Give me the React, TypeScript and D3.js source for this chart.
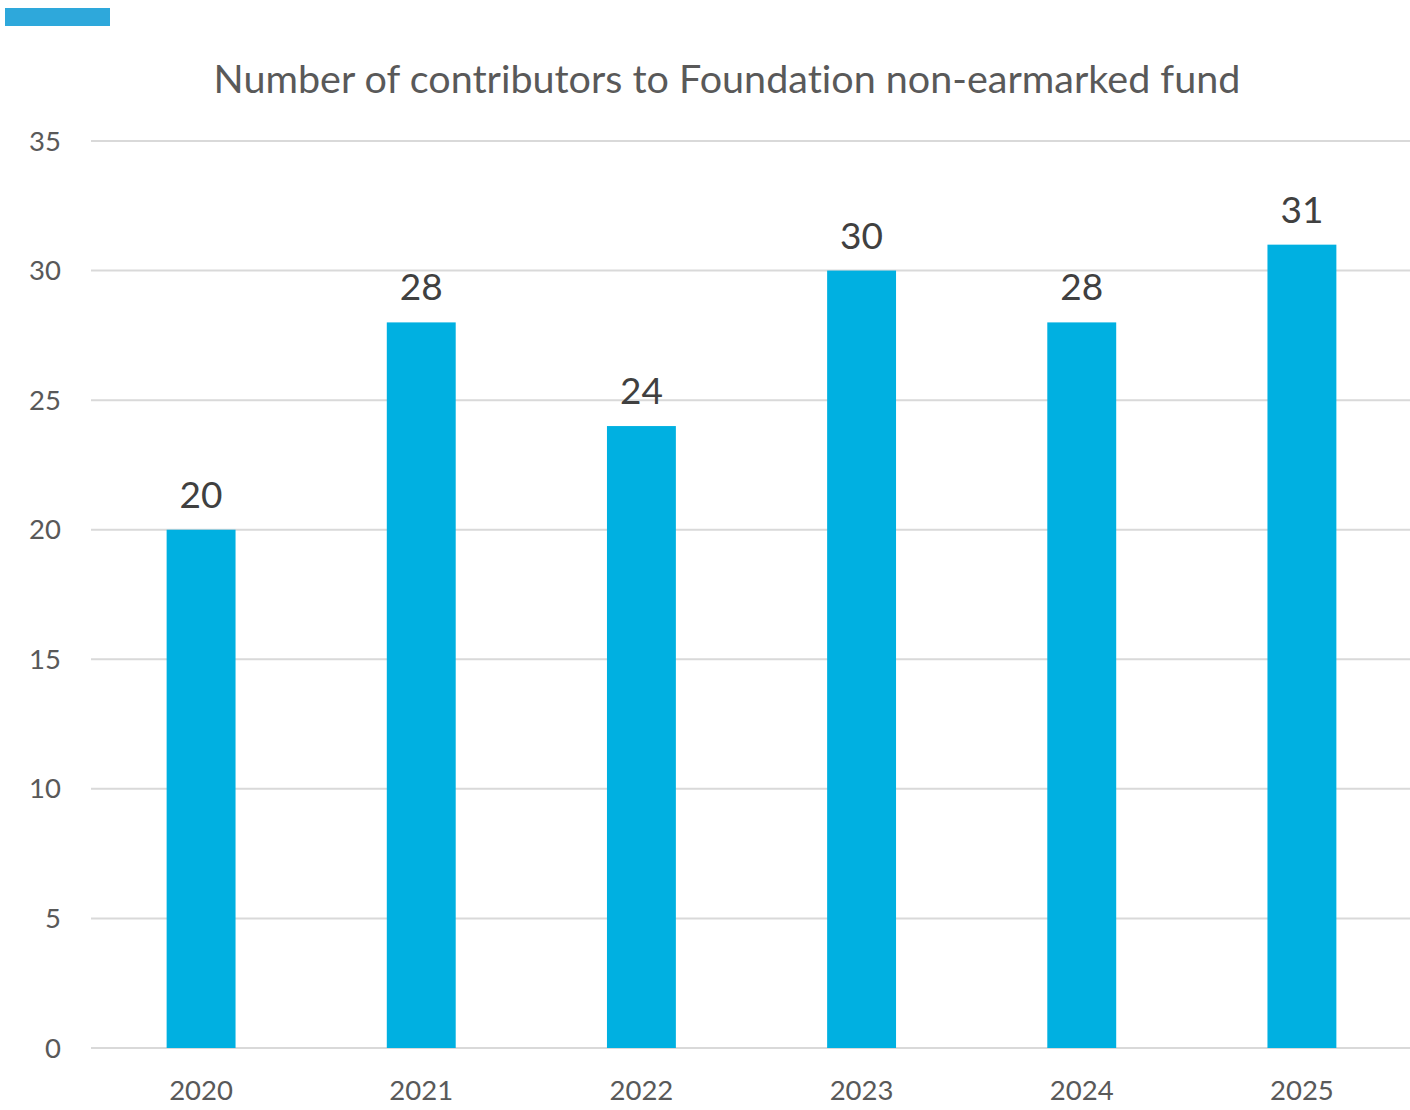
import React from "react";
import * as d3 from "d3";

const years = ["2020", "2021", "2022", "2023", "2024", "2025"];
const contributors = [20, 28, 24, 30, 28, 31];
const yTicks = [0, 5, 10, 15, 20, 25, 30, 35];
const title = "Number of contributors to Foundation non-earmarked fund";

export default function App() {
  const W = 1410, H = 1110;
  const left = 91, right = 1412, top = 141, bottom = 1048;
  const x = d3.scaleBand().domain(years).range([left, right]).paddingInner(0.687).paddingOuter(0.3435);
  const y = d3.scaleLinear().domain([0, 35]).range([bottom, top]);
  const font = "Lato, 'Open Sans', sans-serif";
  return (
    <svg width={W} height={H} style={{ position: "absolute", left: 0, top: 0, fontVariantLigatures: "none" }} fontFamily={font}>
      <rect x={5} y={8} width={105} height={18} fill="#2EA8DB" />
      <text x={727} y={93} textAnchor="middle" fontSize={39.5} fill="#595959">{title}</text>
      {yTicks.map((t) => (
        <g key={t}>
          <line x1={left} x2={1410} y1={y(t)} y2={y(t)} stroke="#d9d9d9" strokeWidth={2} />
          <text x={61} y={y(t) + 9.5} textAnchor="end" fontSize={27.5} fill="#595959">{t}</text>
        </g>
      ))}
      {years.map((yr, i) => (
        <g key={yr}>
          <rect x={x(yr)!} y={y(contributors[i])} width={x.bandwidth()} height={y(0) - y(contributors[i])} fill="#00B0E1" />
          <text x={x(yr)! + x.bandwidth() / 2} y={y(contributors[i]) - 22} textAnchor="middle" fontSize={37} fill="#404040">{contributors[i]}</text>
          <text x={x(yr)! + x.bandwidth() / 2} y={1100} textAnchor="middle" fontSize={27.5} fill="#595959">{yr}</text>
        </g>
      ))}
    </svg>
  );
}
